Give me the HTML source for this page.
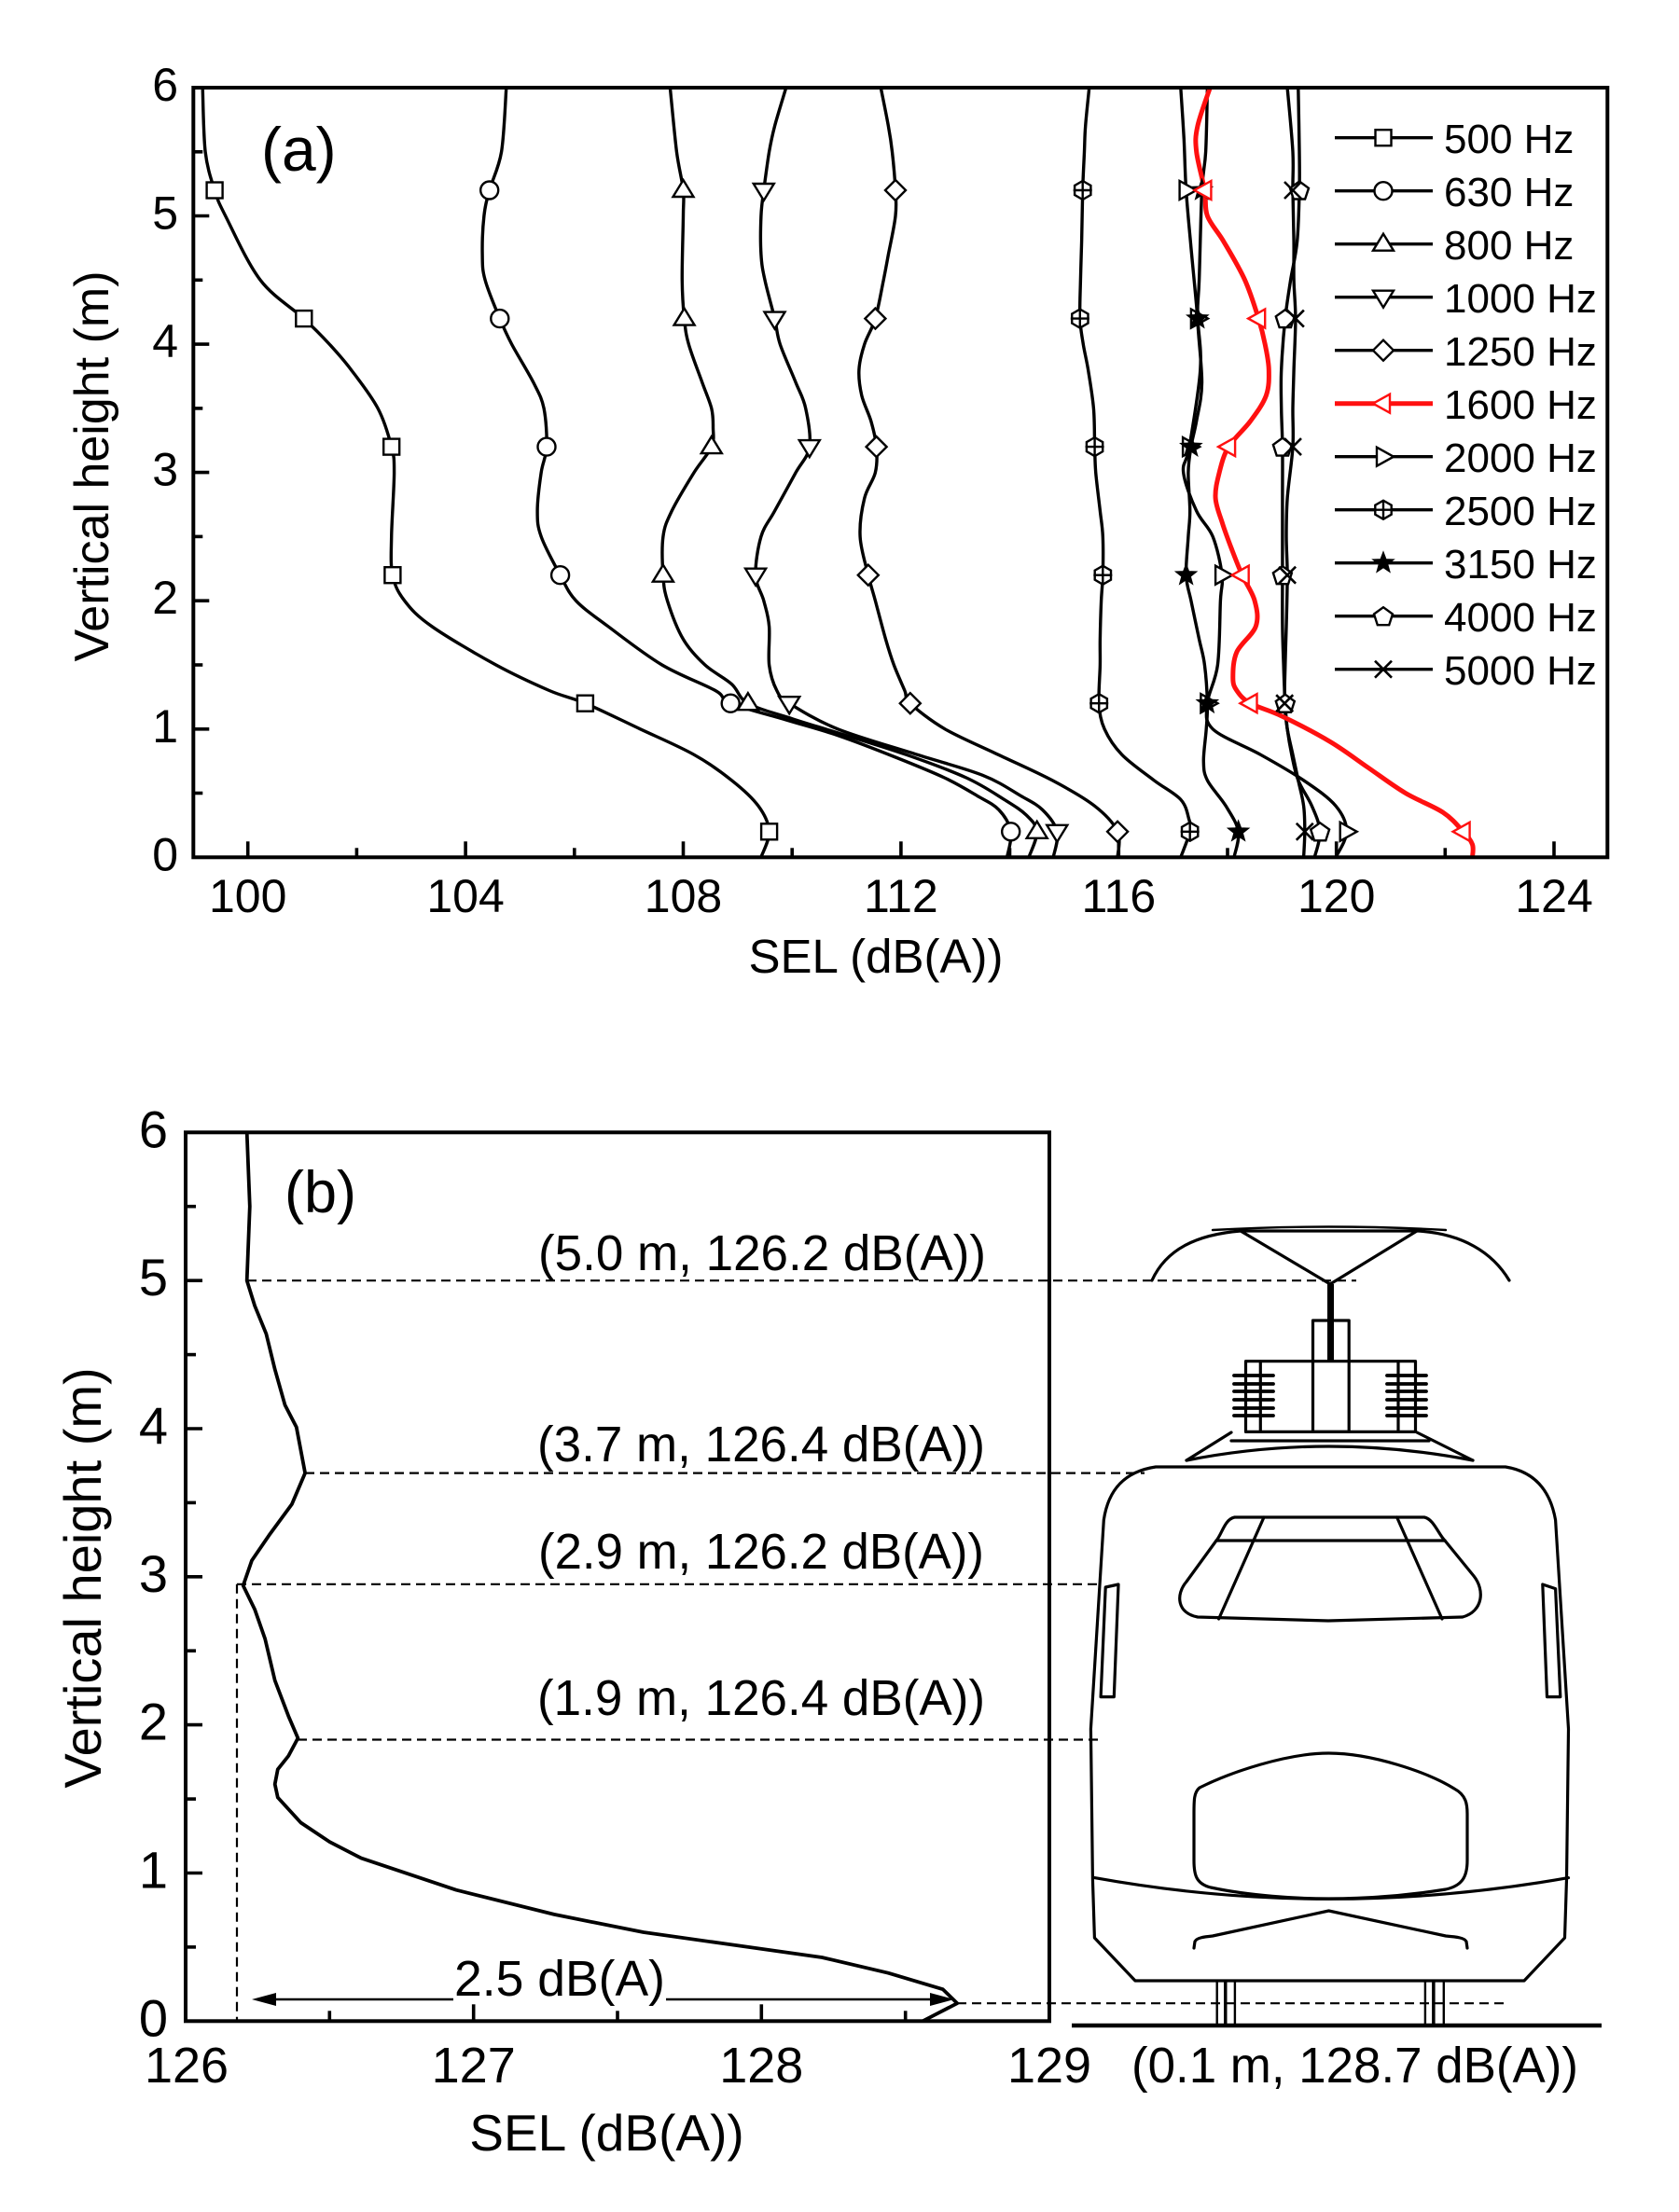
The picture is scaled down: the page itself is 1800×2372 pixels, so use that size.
<!DOCTYPE html>
<html><head><meta charset="utf-8"><style>
html,body{margin:0;padding:0;background:#fff;}
svg{display:block;}
text{font-family:"Liberation Sans",Arial,sans-serif;fill:#000;}
</style></head><body>
<svg id="S" width="1800" height="2372" viewBox="0 0 1800 2372" xmlns="http://www.w3.org/2000/svg">
<rect width="1800" height="2372" fill="#fff"/>
<defs>
<clipPath id="clipA"><rect x="207.3" y="94" width="1516" height="825.3"/></clipPath>
<clipPath id="clipB"><rect x="199" y="1214.3" width="926" height="953"/></clipPath>
</defs>

<!-- ================= PANEL A ================= -->
<g id="plotA" clip-path="url(#clipA)"></g>
<g id="legA"></g>
<rect x="207.3" y="94" width="1516" height="825.3" fill="none" stroke="#000" stroke-width="4"/>
<g id="ticksA" stroke="#000" stroke-width="3.6"></g>

<g font-size="50" text-anchor="end">
<text x="191" y="933.3">0</text>
<text x="191" y="795.8">1</text>
<text x="191" y="658.2">2</text>
<text x="191" y="520.7">3</text>
<text x="191" y="383.1">4</text>
<text x="191" y="245.6">5</text>
<text x="191" y="108">6</text>
</g>
<g font-size="50" text-anchor="middle">
<text x="265.7" y="978">100</text>
<text x="499.1" y="978">104</text>
<text x="732.5" y="978">108</text>
<text x="965.9" y="978">112</text>
<text x="1199.3" y="978">116</text>
<text x="1432.7" y="978">120</text>
<text x="1666.1" y="978">124</text>
</g>
<text x="939" y="1043" font-size="51" text-anchor="middle">SEL (dB(A))</text>
<text transform="translate(116,500) rotate(-90)" font-size="52" text-anchor="middle">Vertical height (m)</text>
<text x="280" y="183" font-size="66">(a)</text>

<g font-size="44">
<text x="1548" y="164">500 Hz</text>
<text x="1548" y="221">630 Hz</text>
<text x="1548" y="278">800 Hz</text>
<text x="1548" y="335">1000 Hz</text>
<text x="1548" y="392">1250 Hz</text>
<text x="1548" y="449">1600 Hz</text>
<text x="1548" y="506">2000 Hz</text>
<text x="1548" y="563">2500 Hz</text>
<text x="1548" y="620">3150 Hz</text>
<text x="1548" y="677">4000 Hz</text>
<text x="1548" y="734">5000 Hz</text>
</g>

<!-- ================= PANEL B ================= -->
<g stroke="#000" stroke-width="2.2" stroke-dasharray="10 6" fill="none">
<line x1="265" y1="1373.2" x2="1454" y2="1373.2"/>
<line x1="327" y1="1579.6" x2="1227" y2="1579.6"/>
<line x1="254" y1="1698.8" x2="1176" y2="1698.8"/>
<line x1="319" y1="1865.5" x2="1177" y2="1865.5"/>
<line x1="1026" y1="2148.2" x2="1618" y2="2148.2"/>
<line x1="254" y1="1698.8" x2="254" y2="2167"/>
</g>
<g id="plotB" clip-path="url(#clipB)"></g>
<rect x="199" y="1214.3" width="926" height="953" fill="none" stroke="#000" stroke-width="4"/>
<g id="ticksB" stroke="#000" stroke-width="3.6"></g>

<!-- arrows -->
<g stroke="#000" stroke-width="2.4" fill="none">
<line x1="292" y1="2144" x2="486" y2="2144"/>
<line x1="714" y1="2144" x2="1000" y2="2144"/>
</g>
<polygon points="270,2144 296,2137 296,2151" fill="#000"/>
<polygon points="1023,2144 997,2137 997,2151" fill="#000"/>
<text x="487" y="2140" font-size="54" textLength="226" lengthAdjust="spacingAndGlyphs">2.5 dB(A)</text>

<g font-size="56" text-anchor="end">
<text x="180" y="2183.3">0</text>
<text x="180" y="2024.5">1</text>
<text x="180" y="1865.6">2</text>
<text x="180" y="1706.8">3</text>
<text x="180" y="1548">4</text>
<text x="180" y="1389.2">5</text>
<text x="180" y="1230.3">6</text>
</g>
<g font-size="54" text-anchor="middle">
<text x="200" y="2233">126</text>
<text x="507.7" y="2233">127</text>
<text x="816.3" y="2233">128</text>
<text x="1125" y="2233">129</text>
</g>
<text x="650.5" y="2306" font-size="55" text-anchor="middle">SEL (dB(A))</text>
<text transform="translate(108,1692) rotate(-90)" font-size="56" text-anchor="middle">Vertical height (m)</text>
<text x="305" y="1300" font-size="63">(b)</text>

<g font-size="54">
<text x="577" y="1362" textLength="480" lengthAdjust="spacingAndGlyphs">(5.0 m, 126.2 dB(A))</text>
<text x="576" y="1567" textLength="480" lengthAdjust="spacingAndGlyphs">(3.7 m, 126.4 dB(A))</text>
<text x="577" y="1682" textLength="478" lengthAdjust="spacingAndGlyphs">(2.9 m, 126.2 dB(A))</text>
<text x="576" y="1839" textLength="480" lengthAdjust="spacingAndGlyphs">(1.9 m, 126.4 dB(A))</text>
<text x="1213" y="2233" textLength="479" lengthAdjust="spacingAndGlyphs">(0.1 m, 128.7 dB(A))</text>
</g>

<!-- ================= TRAIN ================= -->
<g stroke="#000" stroke-width="3.2" fill="none" stroke-linejoin="round" stroke-linecap="round">
<!-- pantograph -->
<path d="M1235,1373 C1250,1340 1282,1324 1330,1320 L1520,1320 C1568,1323 1600,1343 1618,1373"/>
<path d="M1300,1319 Q1424,1312 1550,1319" stroke-width="2.4"/>
<path d="M1330,1320 L1426,1377 L1519,1320"/>
<rect x="1407.5" y="1416" width="38.7" height="119.4"/>
<rect x="1335.5" y="1459.7" width="182" height="75.7"/>
<line x1="1351.3" y1="1460" x2="1351.3" y2="1535"/>
<line x1="1499" y1="1460" x2="1499" y2="1535"/>
<!-- roof -->
<line x1="1320" y1="1545" x2="1532" y2="1545"/>
<path d="M1320,1536 L1272,1566"/>
<path d="M1519,1536 L1579,1566"/>
<path d="M1272,1566 Q1424,1536 1579,1566"/>
<!-- body -->
<path d="M1239,1573 L1614,1573 C1645,1578 1662,1598 1667.6,1630 L1681.5,1854 L1679.5,2015 L1677.5,2078 L1634,2124 L1217,2124 L1173.4,2078 L1171.4,2015 L1169.4,1854 L1183.3,1630 C1188,1598 1205,1578 1239,1573 Z"/>
<!-- windshield -->
<path d="M1323.6,1627 L1527,1627 C1537,1629 1542,1645 1549,1652 L1580,1690 C1592,1705 1590,1728 1568,1734 L1424,1738 L1284,1734 C1262,1730 1260,1710 1272,1696 L1304,1652 C1310,1645 1313,1629 1323.6,1627 Z"/>
<line x1="1304" y1="1652" x2="1549" y2="1652"/>
<line x1="1355" y1="1627" x2="1306.6" y2="1736"/>
<line x1="1497.6" y1="1627" x2="1546" y2="1736"/>
<!-- side windows -->
<polygon points="1185.2,1702 1199,1699 1194.3,1819.6 1180.1,1819.6"/>
<polygon points="1653.8,1699 1667.6,1703.6 1672.8,1819.6 1658.5,1819.6"/>
<!-- nose -->
<path d="M1286,1917 C1320,1900 1380,1880 1424.5,1880 C1470,1880 1530,1900 1559,1918 C1572,1925 1573,1935 1573,1945 L1573,1995 C1573,2012 1568,2022 1550,2026 C1500,2034 1460,2036 1424.5,2036 C1390,2036 1340,2033 1298,2024 C1282,2020 1280,2010 1280,1995 L1280,1945 C1280,1930 1280,1922 1286,1917 Z"/>
<path d="M1173.4,2013.6 Q1424.5,2059 1681.5,2013.6"/>
<path d="M1280,2089 L1281,2082 C1283,2078 1290,2077 1300,2076 L1424.5,2049 L1550,2076 C1562,2077 1570,2078 1572,2082 L1573,2089"/>
<!-- wheels -->
<rect x="1304.7" y="2124" width="8.5" height="48" stroke-width="2.4"/>
<rect x="1314.3" y="2124" width="9.6" height="48" stroke-width="2.4"/>
<rect x="1527.9" y="2124" width="8.4" height="48" stroke-width="2.4"/>
<rect x="1537.4" y="2124" width="10.4" height="48" stroke-width="2.4"/>
</g>
<rect x="1423" y="1377" width="7" height="82" fill="#000"/>
<g stroke="#000" stroke-width="3.8" stroke-linecap="round">
<line x1="1323" y1="1475" x2="1365" y2="1475"/><line x1="1323" y1="1484" x2="1365" y2="1484"/>
<line x1="1323" y1="1492" x2="1365" y2="1492"/><line x1="1323" y1="1501" x2="1365" y2="1501"/>
<line x1="1323" y1="1510" x2="1365" y2="1510"/><line x1="1323" y1="1518" x2="1365" y2="1518"/>
<line x1="1487" y1="1475" x2="1529" y2="1475"/><line x1="1487" y1="1484" x2="1529" y2="1484"/>
<line x1="1487" y1="1492" x2="1529" y2="1492"/><line x1="1487" y1="1501" x2="1529" y2="1501"/>
<line x1="1487" y1="1510" x2="1529" y2="1510"/><line x1="1487" y1="1518" x2="1529" y2="1518"/>
</g>
<line x1="1149" y1="2172" x2="1717" y2="2172" stroke="#000" stroke-width="4.5"/>
</svg>

<script>
(function(){
function pa(p){return [207.3+(p[0]-99)*58.35, 919.3-p[1]*137.55];}
function pb(p){return [199+(p[0]-126)*308.67, 2167.3-p[1]*158.83];}
function f(v){return v.toFixed(1);}
function spline(P){
  var d='M'+f(P[0][0])+','+f(P[0][1]);
  for(var i=0;i<P.length-1;i++){
    var p0=P[Math.max(i-1,0)],p1=P[i],p2=P[i+1],p3=P[Math.min(i+2,P.length-1)];
    var c1=[p1[0]+(p2[0]-p0[0])/6,p1[1]+(p2[1]-p0[1])/6];
    var c2=[p2[0]-(p3[0]-p1[0])/6,p2[1]-(p3[1]-p1[1])/6];
    d+='C'+f(c1[0])+','+f(c1[1])+' '+f(c2[0])+','+f(c2[1])+' '+f(p2[0])+','+f(p2[1]);
  }
  return d;
}
var SW=2.4;
function poly(pts,c,fill){return '<polygon points="'+pts.map(function(q){return f(q[0])+','+f(q[1]);}).join(' ')+'" stroke="'+c+'" stroke-width="'+SW+'" fill="'+(fill||'#fff')+'"/>';}
function mk(t,x,y,c){
  var s='stroke="'+c+'" stroke-width="'+SW+'" fill="#fff"';
  switch(t){
    case 'sq': return '<rect x="'+f(x-8.5)+'" y="'+f(y-8.5)+'" width="17" height="17" '+s+'/>';
    case 'ci': return '<circle cx="'+f(x)+'" cy="'+f(y)+'" r="9.5" '+s+'/>';
    case 'tu': return poly([[x,y-11],[x+11,y+7],[x-11,y+7]],c);
    case 'td': return poly([[x,y+11],[x+11,y-7],[x-11,y-7]],c);
    case 'di': return poly([[x,y-11],[x+11,y],[x,y+11],[x-11,y]],c);
    case 'tl': return poly([[x-11,y],[x+7,y-10],[x+7,y+10]],c);
    case 'tr': return poly([[x+11,y],[x-7,y-10],[x-7,y+10]],c);
    case 'hx': {var h=[];for(var k=0;k<6;k++){var a=Math.PI/6+k*Math.PI/3;h.push([x+10*Math.cos(a),y+10*Math.sin(a)]);}
      return poly(h,c)+'<path d="M'+f(x-10)+','+f(y)+'H'+f(x+10)+'M'+f(x)+','+f(y-10)+'V'+f(y+10)+'" stroke="'+c+'" stroke-width="'+SW+'"/>';}
    case 'st': {var h2=[];for(var k2=0;k2<10;k2++){var a2=-Math.PI/2+k2*Math.PI/5;var r=(k2%2==0)?10:4.2;h2.push([x+r*Math.cos(a2),y+r*Math.sin(a2)]);}
      return poly(h2,c,c);}
    case 'pe': {var h3=[];for(var k3=0;k3<5;k3++){var a3=-Math.PI/2+k3*2*Math.PI/5;h3.push([x+10.5*Math.cos(a3),y+1+10.5*Math.sin(a3)]);}
      return poly(h3,c);}
    case 'x': return '<path d="M'+f(x-9)+','+f(y-9)+'L'+f(x+9)+','+f(y+9)+'M'+f(x-9)+','+f(y+9)+'L'+f(x+9)+','+f(y-9)+'" stroke="'+c+'" stroke-width="2.6"/>';
  }
  return '';
}
var K='#000',R='#ff1010';
var W=3.4;
var S=[
{m:'sq',c:K,w:W,d:[[99.17,6],[99.22,5.5],[99.39,5.2],[99.59,5.0],[100.23,4.5],[101.03,4.2],[101.5,4.0],[101.9,3.8],[102.39,3.5],[102.64,3.2],[102.69,3.0],[102.64,2.5],[102.66,2.2],[102.88,2.0],[103.38,1.8],[104.56,1.5],[105.54,1.3],[106.2,1.2],[107.21,1.0],[108.2,0.8],[108.89,0.6],[109.38,0.4],[109.58,0.2],[109.43,0]]},
{m:'ci',c:K,w:W,d:[[104.75,6],[104.66,5.5],[104.44,5.2],[104.34,5.0],[104.31,4.7],[104.36,4.5],[104.63,4.2],[104.85,4.0],[105.25,3.7],[105.44,3.5],[105.49,3.2],[105.39,3.0],[105.32,2.7],[105.39,2.5],[105.74,2.2],[106.03,2.0],[106.62,1.8],[107.61,1.5],[108.59,1.3],[108.87,1.2],[109.9,1.07],[110.84,0.95],[111.9,0.78],[112.8,0.62],[113.4,0.48],[113.8,0.37],[114.02,0.2],[113.95,0]]},
{m:'tu',c:K,w:W,d:[[107.76,6],[107.88,5.5],[108.0,5.2],[108.0,5.0],[107.98,4.5],[108.02,4.2],[108.1,4.0],[108.35,3.7],[108.52,3.5],[108.55,3.35],[108.52,3.2],[108.2,3.0],[107.79,2.7],[107.63,2.5],[107.63,2.2],[107.71,2.0],[108.0,1.7],[108.4,1.5],[108.89,1.35],[109.19,1.2],[110.0,1.08],[110.84,0.97],[112.1,0.8],[113.2,0.62],[113.9,0.45],[114.3,0.33],[114.5,0.2],[114.35,0]]},
{m:'td',c:K,w:W,d:[[109.89,6],[109.68,5.7],[109.58,5.5],[109.48,5.2],[109.43,5.0],[109.43,4.7],[109.5,4.5],[109.68,4.2],[109.78,4.0],[110.07,3.7],[110.25,3.5],[110.32,3.2],[110.07,3.0],[109.68,2.7],[109.43,2.5],[109.33,2.2],[109.48,2.0],[109.58,1.8],[109.58,1.5],[109.72,1.3],[109.95,1.2],[110.84,1.0],[112.3,0.8],[113.5,0.64],[114.2,0.48],[114.6,0.37],[114.87,0.2],[114.8,0]]},
{m:'di',c:K,w:W,d:[[111.63,6],[111.77,5.7],[111.84,5.5],[111.9,5.2],[111.9,5.0],[111.77,4.7],[111.68,4.5],[111.53,4.2],[111.33,4.0],[111.23,3.8],[111.28,3.6],[111.45,3.4],[111.55,3.2],[111.53,3.0],[111.33,2.8],[111.25,2.5],[111.4,2.2],[111.53,2.0],[111.72,1.7],[111.87,1.5],[112.07,1.3],[112.17,1.2],[112.81,1.0],[113.79,0.8],[114.78,0.6],[115.56,0.4],[115.98,0.2],[115.98,0]]},
{m:'hx',c:K,w:W,d:[[115.46,6],[115.39,5.7],[115.37,5.5],[115.34,5.2],[115.32,4.8],[115.3,4.5],[115.29,4.2],[115.35,4.0],[115.44,3.8],[115.54,3.5],[115.56,3.2],[115.58,3.0],[115.66,2.7],[115.71,2.5],[115.71,2.2],[115.68,2.0],[115.66,1.7],[115.66,1.5],[115.64,1.2],[115.74,1.0],[116.06,0.8],[116.65,0.6],[117.14,0.45],[117.29,0.3],[117.31,0.2],[117.14,0]]},
{m:'tr',c:K,w:W,d:[[117.14,6],[117.2,5.6],[117.24,5.2],[117.32,4.8],[117.45,4.2],[117.5,3.8],[117.3,3.2],[117.19,3.0],[117.43,2.7],[117.73,2.5],[117.9,2.2],[117.87,2.0],[117.82,1.5],[117.63,1.2],[117.73,1.0],[118.61,0.8],[119.4,0.6],[119.99,0.4],[120.19,0.2],[119.99,0]]},
{m:'st',c:K,w:W,d:[[117.63,6],[117.6,5.5],[117.53,5.2],[117.48,4.5],[117.45,4.2],[117.53,3.7],[117.43,3.4],[117.33,3.2],[117.28,3.0],[117.31,2.7],[117.28,2.5],[117.24,2.2],[117.33,2.0],[117.48,1.7],[117.58,1.5],[117.63,1.2],[117.61,1.0],[117.56,0.75],[117.63,0.6],[117.97,0.4],[118.2,0.2],[118.12,0]]},
{m:'pe',c:K,w:W,d:[[119.3,6],[119.32,5.5],[119.32,5.2],[119.28,4.8],[119.16,4.5],[119.06,4.2],[118.99,3.8],[118.99,3.5],[119.01,3.2],[119.01,2.8],[119.01,2.5],[119.01,2.2],[119.01,1.8],[119.03,1.5],[119.06,1.2],[119.1,1.0],[119.18,0.8],[119.3,0.6],[119.55,0.4],[119.7,0.2],[119.6,0]]},
{m:'x',c:K,w:W,d:[[119.1,6],[119.2,5.5],[119.2,5.2],[119.22,4.8],[119.22,4.5],[119.25,4.2],[119.22,3.8],[119.2,3.5],[119.2,3.2],[119.1,2.8],[119.08,2.5],[119.1,2.2],[119.08,1.8],[119.06,1.5],[119.05,1.2],[119.1,1.0],[119.2,0.8],[119.3,0.6],[119.4,0.4],[119.42,0.2],[119.4,0]]},
{m:'tl',c:R,w:5,d:[[117.68,6],[117.45,5.7],[117.43,5.5],[117.58,5.2],[117.63,5.0],[117.93,4.8],[118.32,4.5],[118.57,4.2],[118.69,4.0],[118.76,3.8],[118.71,3.6],[118.42,3.4],[118.02,3.2],[117.85,3.0],[117.78,2.8],[117.91,2.6],[118.08,2.4],[118.27,2.2],[118.5,2.0],[118.52,1.8],[118.17,1.6],[118.1,1.4],[118.17,1.3],[118.42,1.2],[119.0,1.1],[119.89,0.9],[120.58,0.7],[121.27,0.5],[121.96,0.35],[122.33,0.2],[122.5,0.1],[122.5,0]]}
];
var MY=[0.2,1.2,2.2,3.2,4.2,5.2];
var lines='',marks='';
S.forEach(function(s){
  var P=s.d.map(pa);
  lines+='<path d="'+spline(P)+'" stroke="'+s.c+'" stroke-width="'+s.w+'" fill="none" stroke-linejoin="round"/>';
});
S.forEach(function(s){
  s.d.forEach(function(p){ if(MY.indexOf(p[1])>=0){var q=pa(p); marks+=mk(s.m,q[0],q[1],s.c);} });
});
document.getElementById('plotA').innerHTML=lines+marks;

// legend
var order=['sq','ci','tu','td','di','tl','tr','hx','st','pe','x'];
var lg='';
order.forEach(function(m,i){
  var y=147.7+57*i; var c=(m=='tl')?R:K; var w=(m=='tl')?5:3.4;
  lg+='<line x1="1431" y1="'+f(y)+'" x2="1536" y2="'+f(y)+'" stroke="'+c+'" stroke-width="'+w+'"/>';
  lg+=mk(m,1483,y,c);
});
document.getElementById('legA').innerHTML=lg;

// ticks A
var t='';
for(var v=100;v<=124;v+=2){var x=207.3+(v-99)*58.35;var L=((v-100)%4==0)?17:10;t+='<line x1="'+f(x)+'" y1="919.3" x2="'+f(x)+'" y2="'+f(919.3-L)+'"/>';}
for(var k=1;k<12;k++){var y=919.3-k*0.5*137.55;var L2=(k%2==0)?17:10;t+='<line x1="207.3" y1="'+f(y)+'" x2="'+f(207.3+L2)+'" y2="'+f(y)+'"/>';}
document.getElementById('ticksA').innerHTML=t;

// panel B
var B=[[126.213,6],[126.223,5.5],[126.213,5.0],[126.24,4.83],[126.28,4.64],[126.31,4.4],[126.345,4.16],[126.385,4.01],[126.415,3.70],[126.369,3.49],[126.29,3.28],[126.23,3.11],[126.2,2.94],[126.24,2.78],[126.276,2.58],[126.31,2.30],[126.357,2.06],[126.39,1.91],[126.357,1.79],[126.32,1.70],[126.31,1.60],[126.32,1.51],[126.40,1.34],[126.5,1.21],[126.61,1.10],[126.94,0.885],[127.28,0.72],[127.59,0.60],[127.86,0.526],[128.21,0.43],[128.44,0.325],[128.63,0.215],[128.68,0.12],[128.56,0.0]];
var pts=B.map(pb).map(function(q){return f(q[0])+','+f(q[1]);}).join(' ');
document.getElementById('plotB').innerHTML='<polyline points="'+pts+'" fill="none" stroke="#000" stroke-width="3.8" stroke-linejoin="round"/>';
var tb='';
for(var k4=1;k4<6;k4++){var x4=199+k4*0.5*308.67;var L4=(k4%2==0)?18:11;tb+='<line x1="'+f(x4)+'" y1="2167.3" x2="'+f(x4)+'" y2="'+f(2167.3-L4)+'"/>';}
for(var k5=1;k5<12;k5++){var y5=2167.3-k5*0.5*158.83;var L5=(k5%2==0)?18:11;tb+='<line x1="199" y1="'+f(y5)+'" x2="'+f(199+L5)+'" y2="'+f(y5)+'"/>';}
document.getElementById('ticksB').innerHTML=tb;
})();
</script>
</body></html>
